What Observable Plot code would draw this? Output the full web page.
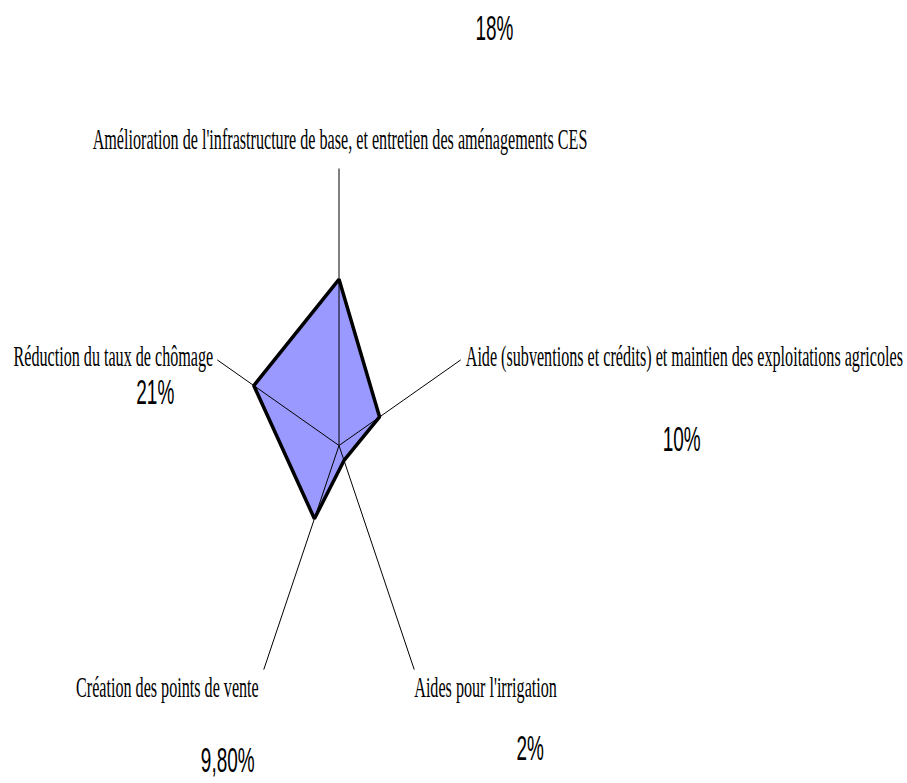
<!DOCTYPE html>
<html>
<head>
<meta charset="utf-8">
<script src="https://cdn.jsdelivr.net/npm/d3@7"></script>
<script src="https://cdn.jsdelivr.net/npm/@observablehq/plot@0.6"></script>
<style>
  html, body { margin: 0; padding: 0; background: #fff; }
  #chart svg { display: block; }
  .catlab text { font-family: "Liberation Serif", "Times New Roman", serif; }
  .vallab text { font-family: "Liberation Sans", Arial, sans-serif; }
</style>
</head>
<body>
<div id="chart"></div>
<script>
// ---- data ----
const categories = [
  "Amélioration de l'infrastructure de base, et entretien des aménagements CES",
  "Aide (subventions et crédits) et maintien des exploitations agricoles",
  "Aides pour l'irrigation",
  "Création des points de vente",
  "Réduction du taux de chômage"
];
const values = [18, 10, 2, 9.8, 21];
const valueLabels = ["18%", "10%", "2%", "9,80%", "21%"];
const axisMax = 30;

// ---- layout (pixels) ----
const W = 907, H = 783;
const cx = 338.5, cy = 445, rx = 128, ry = 277; // centre and radii of the radar (px for axisMax)
const xDomain = [-cx * axisMax / rx, (W - cx) * axisMax / rx];
const yDomain = [-(H - cy) * axisMax / ry, cy * axisMax / ry];

const angle = i => (90 - 72 * i) * Math.PI / 180;
const pts = values.map((v, i) => ({x: v * Math.cos(angle(i)), y: v * Math.sin(angle(i)), cat: categories[i]}));
const axes = categories.map((c, i) => ({x: axisMax * Math.cos(angle(i)), y: axisMax * Math.sin(angle(i)), cat: c, lab: valueLabels[i]}));

// label placement (style): anchor and offsets per axis
const catAnchor = ["middle", "start", "start", "end", "end"];
const catOffset = [[1, -29], [5, -3], [0, 18], [-5, 18], [-4, -3]];
const valOffset = [[155.5, -140], [221, 80], [116, 79], [-36, 91], [-62, 33]];

const marks = [
  Plot.line(pts, {x: "x", y: "y", curve: "linear-closed", fill: "#9999ff", stroke: "none"}),
  Plot.link(axes, {x1: 0, y1: 0, x2: "x", y2: "y", stroke: "black", strokeWidth: 1}),
  Plot.line(pts, {x: "x", y: "y", curve: "linear-closed", fill: "none", stroke: "black", strokeWidth: 3.5, strokeLinejoin: "miter"})
];
axes.forEach((a, i) => {
  marks.push(Plot.text([a], {x: "x", y: "y", text: "cat", textAnchor: catAnchor[i],
    dx: catOffset[i][0], dy: catOffset[i][1], fontFamily: "Liberation Serif, Times New Roman, serif",
    fontSize: 29, fill: "black", className: "catlab"}));
  marks.push(Plot.text([a], {x: "x", y: "y", text: "lab", textAnchor: "middle",
    dx: valOffset[i][0], dy: valOffset[i][1], fontFamily: "Liberation Sans, Arial, sans-serif",
    fontSize: 36, fill: "black", className: "vallab"}));
});

const chart = Plot.plot({
  width: W, height: H,
  margin: 0,
  x: {domain: xDomain, range: [0, W], axis: null},
  y: {domain: yDomain, range: [H, 0], axis: null},
  style: {background: "white", overflow: "visible"},
  marks
});
document.getElementById("chart").appendChild(chart);

// horizontally condense the text (the original chart was stretched vertically)
function condense(selector, refText, refWidth) {
  const texts = Array.from(chart.querySelectorAll(selector + " text"));
  const ref = texts.find(t => t.textContent === refText);
  const s = ref ? refWidth / ref.getComputedTextLength() : 0.6;
  texts.forEach(t => {
    let tr = t.getAttribute("transform");
    if (!tr) {
      const x = +t.getAttribute("x") || 0, y = +t.getAttribute("y") || 0;
      t.removeAttribute("x"); t.removeAttribute("y");
      tr = `translate(${x},${y})`;
    }
    t.setAttribute("transform", tr + ` scale(${s},1)`);
  });
}
condense(".catlab", categories[0], 495);
condense(".vallab", valueLabels[0], 38);
</script>
</body>
</html>
